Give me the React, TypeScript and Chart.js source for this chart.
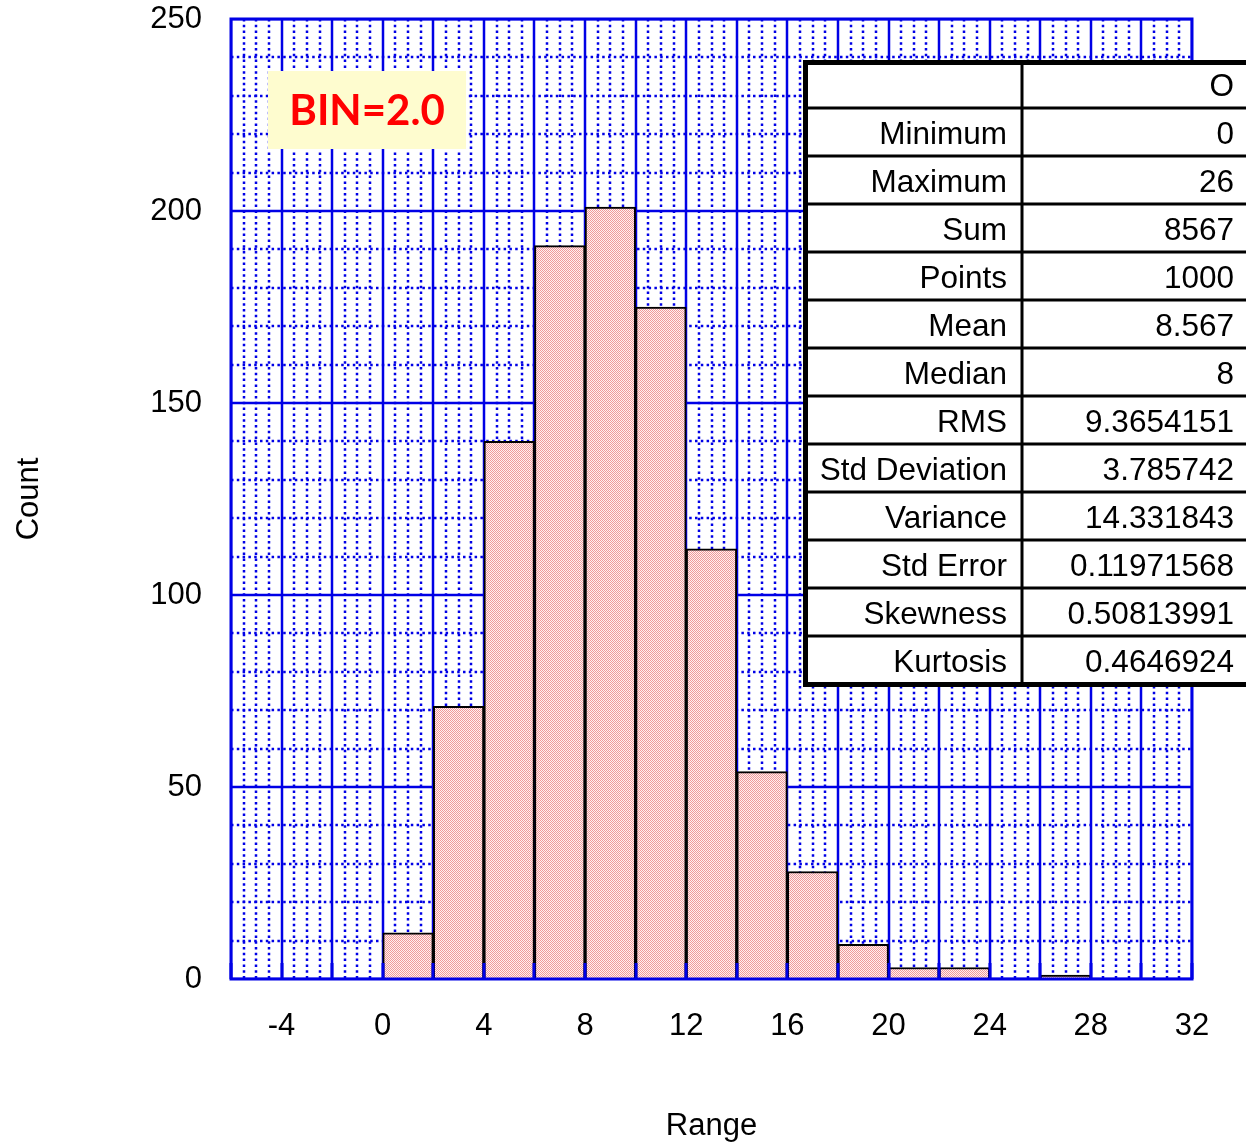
import React, { useEffect, useRef } from 'react';
import { Chart, registerables } from 'chart.js';

Chart.register(...registerables);

// ---- data ----
const binStarts = [0, 2, 4, 6, 8, 10, 12, 14, 16, 18, 20, 22, 24, 26];
const binWidth = 2;
const counts = [12, 71, 140, 191, 201, 175, 112, 54, 28, 9, 3, 3, 0, 1];

const xMin = -6;
const xMax = 32;
const xMinorStep = 0.5;
const xMajorStep = 2;
const xLabelStep = 4;

const yMin = 0;
const yMax = 250;
const yMinorStep = 10;
const yMajorStep = 50;

const statLabels = ['', 'Minimum', 'Maximum', 'Sum', 'Points', 'Mean', 'Median', 'RMS', 'Std Deviation', 'Variance', 'Std Error', 'Skewness', 'Kurtosis'];
const statValues = ['O', '0', '26', '8567', '1000', '8.567', '8', '9.3654151', '3.785742', '14.331843', '0.11971568', '0.50813991', '0.4646924'];

const binLabel = 'BIN=2.0';
const xTitle = 'Range';
const yTitle = 'Count';

const BLUE = '#0000e6';
const FONT = '"Liberation Sans", Arial, sans-serif';

const isMult = (v: number, step: number) => Math.abs(v / step - Math.round(v / step)) < 1e-9;

function makePattern(): CanvasPattern | string {
  const c = document.createElement('canvas');
  c.width = 2;
  c.height = 2;
  const g = c.getContext('2d');
  if (!g) return '#f7c2c2';
  g.fillStyle = '#fff0f0';
  g.fillRect(0, 0, 2, 2);
  g.fillStyle = '#f09a9a';
  g.fillRect(0, 0, 1, 1);
  g.fillRect(1, 1, 1, 1);
  const p = g.createPattern(c, 'repeat');
  return p || '#f7c2c2';
}

const gridPlugin = {
  id: 'customGrid',
  beforeDatasetsDraw(chart: any) {
    const { ctx, chartArea } = chart;
    const { left, right, top, bottom } = chartArea;
    const xs = chart.scales.x;
    const ys = chart.scales.y;
    ctx.save();
    ctx.beginPath();
    ctx.rect(left, top, right - left, bottom - top);
    ctx.clip();
    ctx.strokeStyle = BLUE;
    // minor dotted
    ctx.lineWidth = 2.5;
    ctx.setLineDash([2.5, 3.3]);
    for (const t of xs.ticks) {
      if (isMult(t.value, xMajorStep)) continue;
      const px = Math.round(xs.getPixelForValue(t.value));
      ctx.beginPath();
      ctx.moveTo(px, top);
      ctx.lineTo(px, bottom);
      ctx.stroke();
    }
    for (const t of ys.ticks) {
      if (isMult(t.value, yMajorStep)) continue;
      const py = Math.round(ys.getPixelForValue(t.value));
      ctx.beginPath();
      ctx.moveTo(left, py);
      ctx.lineTo(right, py);
      ctx.stroke();
    }
    // major solid
    ctx.setLineDash([]);
    ctx.lineWidth = 2.5;
    for (const t of xs.ticks) {
      if (!isMult(t.value, xMajorStep)) continue;
      const px = Math.round(xs.getPixelForValue(t.value));
      ctx.beginPath();
      ctx.moveTo(px, top);
      ctx.lineTo(px, bottom);
      ctx.stroke();
    }
    for (const t of ys.ticks) {
      if (!isMult(t.value, yMajorStep)) continue;
      const py = Math.round(ys.getPixelForValue(t.value));
      ctx.beginPath();
      ctx.moveTo(left, py);
      ctx.lineTo(right, py);
      ctx.stroke();
    }
    ctx.restore();
  },
  afterDatasetsDraw(chart: any) {
    const { ctx, chartArea } = chart;
    const { left, right, top, bottom } = chartArea;
    const xs = chart.scales.x;
    ctx.save();
    ctx.strokeStyle = BLUE;
    ctx.setLineDash([]);
    // inward ticks at bottom
    ctx.lineWidth = 3;
    for (const t of xs.ticks) {
      if (!isMult(t.value, xMajorStep)) continue;
      const px = Math.round(xs.getPixelForValue(t.value));
      ctx.beginPath();
      ctx.moveTo(px, bottom);
      ctx.lineTo(px, bottom - 16);
      ctx.stroke();
    }
    // plot border
    ctx.lineWidth = 3;
    ctx.strokeRect(left, top, right - left, bottom - top);
    ctx.restore();
  },
  afterDraw(chart: any) {
    const { ctx } = chart;
    ctx.save();
    // BIN label
    ctx.fillStyle = '#fefccf';
    ctx.fillRect(268, 71, 198, 78);
    ctx.fillStyle = '#ff0000';
    ctx.font = 'bold 42px Lato, "Open Sans", sans-serif';
    ctx.textAlign = 'center';
    ctx.textBaseline = 'middle';
    ctx.fillText(binLabel, 367, 111);

    // stats table
    const tx = 803;
    const ty = 60;
    const rowH = 48;
    const n = statLabels.length;
    const W = chart.width;
    const colX = 1022;
    ctx.fillStyle = '#ffffff';
    ctx.fillRect(tx, ty, W - tx + 10, n * rowH);
    ctx.strokeStyle = '#000';
    ctx.lineWidth = 3;
    for (let i = 1; i < n; i++) {
      const y = ty + i * rowH;
      ctx.beginPath();
      ctx.moveTo(tx, y);
      ctx.lineTo(W + 10, y);
      ctx.stroke();
    }
    ctx.beginPath();
    ctx.moveTo(colX, ty);
    ctx.lineTo(colX, ty + n * rowH);
    ctx.stroke();
    ctx.lineWidth = 5;
    ctx.strokeRect(tx + 2.5, ty + 2.5, W - tx + 30, n * rowH - 2);
    ctx.fillStyle = '#000';
    ctx.font = '31.5px ' + FONT;
    ctx.textAlign = 'right';
    ctx.textBaseline = 'middle';
    for (let i = 0; i < n; i++) {
      const cy = ty + i * rowH + rowH / 2 + 3;
      if (statLabels[i]) ctx.fillText(statLabels[i], 1007, cy);
      ctx.fillText(statValues[i], 1234, cy);
    }
    ctx.restore();
  },
};

export default function App() {
  const ref = useRef<HTMLCanvasElement | null>(null);

  useEffect(() => {
    const canvas = ref.current;
    if (!canvas) return;
    const fill = makePattern();
    const points = binStarts.map((s, i) => ({ x: s + binWidth / 2, y: counts[i] }));
    const chart = new Chart(canvas, {
      type: 'bar',
      data: {
        datasets: [
          {
            data: points as any,
            backgroundColor: fill as any,
            borderColor: '#000000',
            borderWidth: ((c: any) => (c.raw && c.raw.y > 0 ? 2 : 0)) as any,
            borderSkipped: 'start',
            barThickness: 'flex',
            barPercentage: 1,
            categoryPercentage: 1,
          },
        ],
      },
      options: {
        responsive: false,
        animation: false,
        devicePixelRatio: 1,
        layout: { padding: { top: 19, right: 54, left: 0, bottom: 0 } },
        plugins: {
          legend: { display: false },
          tooltip: { enabled: false },
        },
        scales: {
          x: {
            type: 'linear',
            min: xMin,
            max: xMax,
            offset: false,
            grid: { display: false, drawTicks: false },
            border: { display: false },
            ticks: {
              stepSize: xMinorStep,
              autoSkip: false,
              maxRotation: 0,
              minRotation: 0,
              padding: 29,
              color: '#000',
              font: { family: FONT, size: 31 },
              callback: (v: any) => (isMult(Number(v), xLabelStep) ? String(v) : ''),
            },
            title: {
              display: true,
              text: xTitle,
              color: '#000',
              font: { family: FONT, size: 31, lineHeight: 1.15 },
              padding: { top: 0, bottom: 0 },
            },
            afterFit: (s: any) => {
              s.height = 165;
              s.paddingLeft = 0;
              s.paddingRight = 0;
            },
          },
          y: {
            type: 'linear',
            min: yMin,
            max: yMax,
            grid: { display: false, drawTicks: false },
            border: { display: false },
            ticks: {
              stepSize: yMinorStep,
              autoSkip: false,
              padding: 29,
              color: '#000',
              font: { family: FONT, size: 31 },
              callback: (v: any) => (isMult(Number(v), yMajorStep) ? String(v) : ''),
            },
            title: {
              display: true,
              text: yTitle,
              color: '#000',
              font: { family: FONT, size: 31 },
              padding: { top: 11, bottom: 0 },
            },
            afterFit: (s: any) => {
              s.width = 231;
              s.paddingTop = 0;
              s.paddingBottom = 0;
            },
          },
        },
      },
      plugins: [gridPlugin],
    });
    return () => chart.destroy();
  }, []);

  return (
    <div
      style={{
        position: 'fixed',
        left: 0,
        top: 0,
        width: 1246,
        height: 1144,
        overflow: 'hidden',
        background: '#ffffff',
      }}
    >
      <canvas ref={ref} width={1246} height={1144} style={{ display: 'block', width: 1246, height: 1144 }} />
    </div>
  );
}
